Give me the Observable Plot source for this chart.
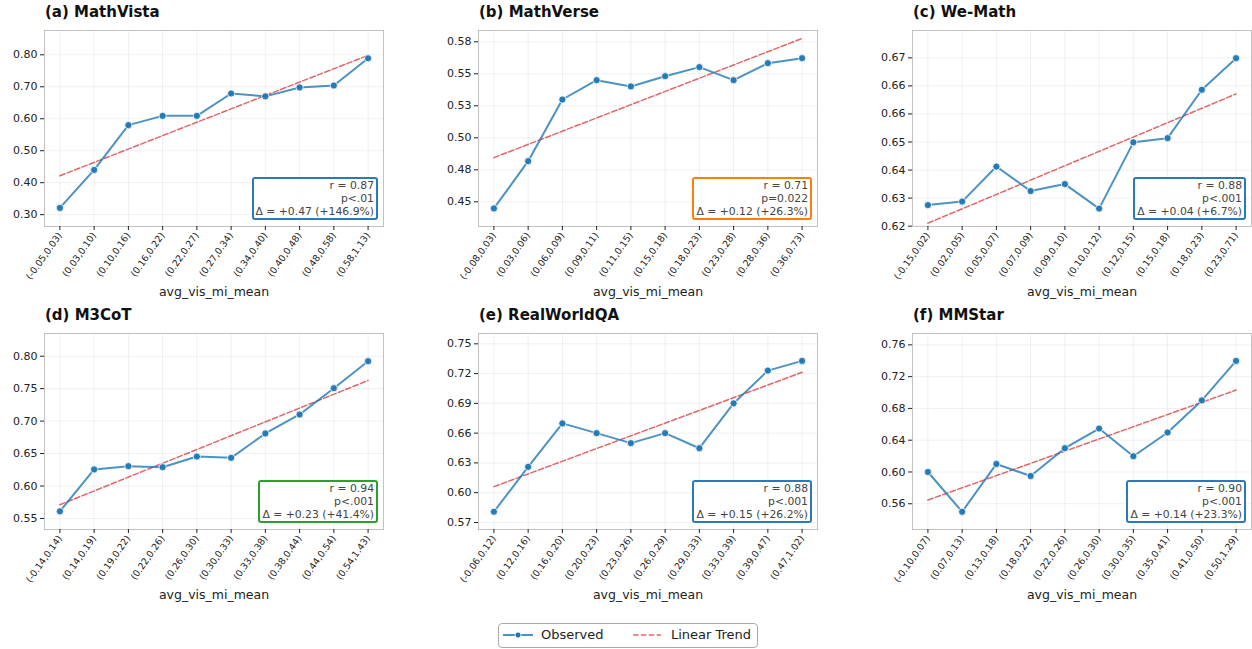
<!DOCTYPE html>
<html>
<head>
<meta charset="utf-8">
<script src="https://cdn.jsdelivr.net/npm/d3@7"></script>
<script src="https://cdn.jsdelivr.net/npm/@observablehq/plot@0.6"></script>
<style>
html,body{margin:0;padding:0;background:#fff;width:1252px;height:649px;overflow:hidden;font-family:"DejaVu Sans",sans-serif;}
#root{position:relative;width:1252px;height:649px;}
.panel{position:absolute;width:386px;height:300px;}
.panel svg{position:absolute;left:0;top:0;}
.ptitle{position:absolute;left:45px;top:5px;font-weight:bold;font-size:15px;line-height:15px;color:#111;white-space:nowrap;}
.stats{position:absolute;right:8px;bottom:80px;border:2px solid;border-radius:3px;padding:0 2px;background:rgba(255,255,255,0.85);font-size:10.8px;line-height:13px;color:#444;text-align:right;white-space:nowrap;}
.legend{position:absolute;left:498px;top:623px;width:260px;height:25px;box-sizing:border-box;border:1.5px solid #aaa;border-radius:4px;font-size:13px;color:#222;}
.legend svg,.legend span{position:absolute;}
</style>
</head>
<body>
<div id="root"></div>
<script>
// ---- data ----
const titles = ["(a) MathVista", "(b) MathVerse", "(c) We-Math", "(d) M3CoT", "(e) RealWorldQA", "(f) MMStar"];

const binsA = ["(-0.05,0.03)","(0.03,0.10)","(0.10,0.16)","(0.16,0.22)","(0.22,0.27)","(0.27,0.34)","(0.34,0.40)","(0.40,0.48)","(0.48,0.58)","(0.58,1.13)"];
const binsB = ["(-0.08,0.03)","(0.03,0.06)","(0.06,0.09)","(0.09,0.11)","(0.11,0.15)","(0.15,0.18)","(0.18,0.23)","(0.23,0.28)","(0.28,0.36)","(0.36,0.73)"];
const binsC = ["(-0.15,0.02)","(0.02,0.05)","(0.05,0.07)","(0.07,0.09)","(0.09,0.10)","(0.10,0.12)","(0.12,0.15)","(0.15,0.18)","(0.18,0.23)","(0.23,0.71)"];
const binsD = ["(-0.14,0.14)","(0.14,0.19)","(0.19,0.22)","(0.22,0.26)","(0.26,0.30)","(0.30,0.33)","(0.33,0.38)","(0.38,0.44)","(0.44,0.54)","(0.54,1.43)"];
const binsE = ["(-0.06,0.12)","(0.12,0.16)","(0.16,0.20)","(0.20,0.23)","(0.23,0.26)","(0.26,0.29)","(0.29,0.33)","(0.33,0.39)","(0.39,0.47)","(0.47,1.02)"];
const binsF = ["(-0.10,0.07)","(0.07,0.13)","(0.13,0.18)","(0.18,0.22)","(0.22,0.26)","(0.26,0.30)","(0.30,0.35)","(0.35,0.41)","(0.41,0.50)","(0.50,1.29)"];

const accA = [0.321, 0.440, 0.580, 0.609, 0.609, 0.679, 0.670, 0.698, 0.704, 0.789];
const accB = [0.4448, 0.4817, 0.5299, 0.5450, 0.5401, 0.5481, 0.5552, 0.5450, 0.5583, 0.5622];
const accC = [0.6300, 0.6310, 0.6410, 0.6340, 0.6360, 0.6290, 0.6479, 0.6491, 0.6629, 0.6719];
const accD = [0.5610, 0.6255, 0.6306, 0.6290, 0.6455, 0.6434, 0.6810, 0.7102, 0.7507, 0.7923];
const accE = [0.5808, 0.6260, 0.6698, 0.6600, 0.6499, 0.6600, 0.6448, 0.6900, 0.7230, 0.7328];
const accF = [0.6000, 0.5499, 0.6101, 0.5949, 0.6299, 0.6547, 0.6198, 0.6497, 0.6901, 0.7398];

const yTicksA = [0.30, 0.40, 0.50, 0.60, 0.70, 0.80];
const yTicksB = [0.45, 0.475, 0.50, 0.525, 0.55, 0.575];
const yTicksC = [0.624, 0.632, 0.640, 0.648, 0.656, 0.664, 0.672];
const yTicksD = [0.55, 0.60, 0.65, 0.70, 0.75, 0.80];
const yTicksE = [0.57, 0.60, 0.63, 0.66, 0.69, 0.72, 0.75];
const yTicksF = [0.56, 0.60, 0.64, 0.68, 0.72, 0.76];

const yLabelsA = ["0.30","0.40","0.50","0.60","0.70","0.80"];
const yLabelsB = ["0.45","0.48","0.50","0.53","0.55","0.58"];
const yLabelsC = ["0.62","0.63","0.64","0.65","0.66","0.66","0.67"];
const yLabelsD = ["0.55","0.60","0.65","0.70","0.75","0.80"];
const yLabelsE = ["0.57","0.60","0.63","0.66","0.69","0.72","0.75"];
const yLabelsF = ["0.56","0.60","0.64","0.68","0.72","0.76"];

const statsA = ["r = 0.87", "p<.01", "Δ = +0.47 (+146.9%)"];
const statsB = ["r = 0.71", "p=0.022", "Δ = +0.12 (+26.3%)"];
const statsC = ["r = 0.88", "p<.001", "Δ = +0.04 (+6.7%)"];
const statsD = ["r = 0.94", "p<.001", "Δ = +0.23 (+41.4%)"];
const statsE = ["r = 0.88", "p<.001", "Δ = +0.15 (+26.2%)"];
const statsF = ["r = 0.90", "p<.001", "Δ = +0.14 (+23.3%)"];

const xLabel = "avg_vis_mi_mean";
const legendLabels = ["Observed", "Linear Trend"];

// ---- styles / layout ----
const BLUE = "#1f77b4", RED = "#d62728";
const boxColors = ["#2a7ab9", "#ff7f0e", "#2a7ab9", "#2ca02c", "#2a7ab9", "#2a7ab9"];
const yDomains = [[0.263, 0.876], [0.4307, 0.5838], [0.6239, 0.6798], [0.533, 0.835], [0.5629, 0.7604], [0.5276, 0.7743]];

const panels = [
  [binsA, accA, yTicksA, yLabelsA, statsA],
  [binsB, accB, yTicksB, yLabelsB, statsB],
  [binsC, accC, yTicksC, yLabelsC, statsC],
  [binsD, accD, yTicksD, yLabelsD, statsD],
  [binsE, accE, yTicksE, yLabelsE, statsE],
  [binsF, accF, yTicksF, yLabelsF, statsF]
];

const root = document.getElementById("root");

panels.forEach(([bins, acc, yTicks, yLabels, stats], k) => {
  const col = k % 3, row = Math.floor(k / 3);
  const div = document.createElement("div");
  div.className = "panel";
  div.style.left = (434 * col) + "px";
  div.style.top = (303 * row) + "px";
  root.appendChild(div);

  const rows = acc.map((v, i) => ({i, bin: bins[i], v}));
  const idx = bins.map((_, i) => i);

  const chart = Plot.plot({
    width: 386, height: 300,
    marginLeft: 44, marginRight: 3, marginTop: 30, marginBottom: 74,
    style: {fontFamily: "DejaVu Sans", background: "transparent", overflow: "visible", color: "#222"},
    x: {type: "linear", domain: [-0.45, bins.length - 1 + 0.45]},
    y: {domain: yDomains[k]},
    marks: [
      Plot.gridX(idx, {stroke: "#000", strokeOpacity: 0.06}),
      Plot.gridY(yTicks, {stroke: "#000", strokeOpacity: 0.06}),
      Plot.frame({stroke: "#c2c2c2"}),
      Plot.linearRegressionY(rows, {x: "i", y: "v", ci: 0, stroke: RED, strokeOpacity: 0.7, strokeWidth: 1.5, strokeDasharray: "5.5,2.4"}),
      Plot.line(rows, {x: "i", y: "v", stroke: BLUE, strokeOpacity: 0.8, strokeWidth: 2}),
      Plot.dot(rows, {x: "i", y: "v", r: 3.6, fill: BLUE, fillOpacity: 0.95, stroke: "#fff", strokeWidth: 0.8}),
      Plot.axisY(yTicks, {tickFormat: d => yLabels[yTicks.indexOf(d)], tickSize: 4, tickPadding: 3, fontSize: 11, label: null}),
      Plot.axisX(idx, {tickFormat: i => bins[i], tickRotate: -55, fontSize: 9.3, tickSize: 4, tickPadding: 3, label: null}),
      Plot.text([xLabel], {frameAnchor: "bottom", dy: 69, fontSize: 12.5, fill: "#222"})
    ]
  });
  div.appendChild(chart);

  const t = document.createElement("div");
  t.className = "ptitle";
  t.textContent = titles[k];
  div.appendChild(t);

  const s = document.createElement("div");
  s.className = "stats";
  s.style.borderColor = boxColors[k];
  s.innerHTML = stats.map(l => `<div>${l}</div>`).join("");
  div.appendChild(s);
});

// legend
const leg = document.createElement("div");
leg.className = "legend";
leg.innerHTML = `
<svg style="left:4px;top:6px" width="30" height="10"><line x1="0" x2="30" y1="5" y2="5" stroke="${BLUE}" stroke-opacity="0.8" stroke-width="2"/><circle cx="15" cy="5" r="3" fill="${BLUE}" stroke="#fff" stroke-width="0.8"/></svg>
<span style="left:42px;top:3px">${legendLabels[0]}</span>
<svg style="left:134px;top:6px" width="28" height="10"><line x1="0" x2="28" y1="5" y2="5" stroke="${RED}" stroke-opacity="0.7" stroke-width="1.5" stroke-dasharray="5.5,2.4"/></svg>
<span style="left:172px;top:3px">${legendLabels[1]}</span>`;
root.appendChild(leg);
</script>
</body>
</html>
